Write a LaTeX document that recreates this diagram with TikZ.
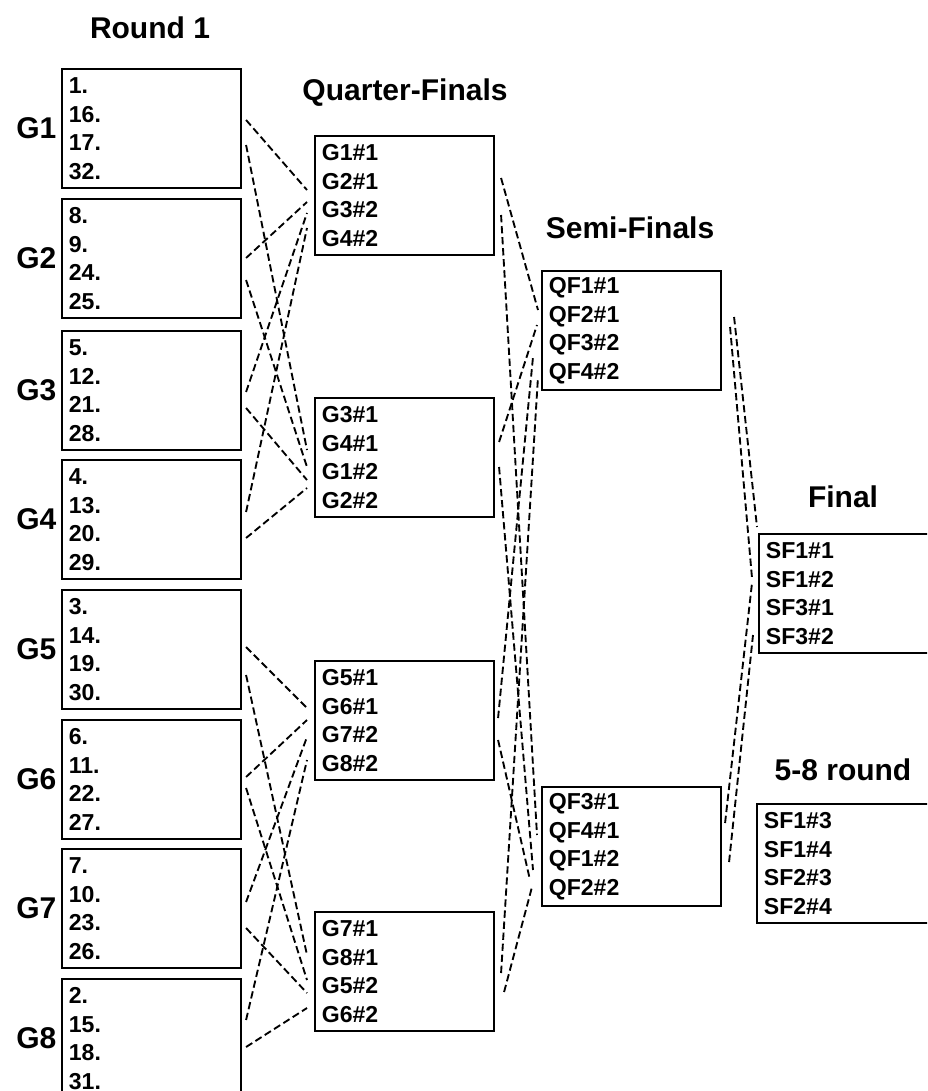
\documentclass[tikz,border=0pt]{standalone}
\usepackage{fontspec}
\setmainfont{Liberation Sans}
\usepackage{tikz}
\usetikzlibrary{calc, positioning}

\begin{document}
\begin{tikzpicture}[x=0.75pt, y=-0.75pt,
    hop/.style={draw, line width=1.8pt, anchor=north west, minimum width=134pt,
        minimum height=89pt, text width=124pt, inner xsep=5pt, align=left,
        font=\bfseries\fontsize{17.3}{21.4}\selectfont},
    tieude/.style={font=\bfseries\fontsize{22.5}{27}\selectfont},
    noi/.style={line width=1.4pt, dash pattern=on 5.5pt off 2.8pt}]
    \useasboundingbox (0,0) rectangle (927,1091);
    \clip (0,0) rectangle (927,1091);

    % 1. Vòng 1: tám bảng G1 -- G8
    \node[tieude] (tdvong1) at (150,28) {Round 1};
    \node[hop] (g1) at (61,68)  {1.\\16.\\17.\\32.};
    \node[hop] (g2) at (61,198) {8.\\9.\\24.\\25.};
    \node[hop] (g3) at (61,330) {5.\\12.\\21.\\28.};
    \node[hop] (g4) at (61,459) {4.\\13.\\20.\\29.};
    \node[hop] (g5) at (61,589) {3.\\14.\\19.\\30.};
    \node[hop] (g6) at (61,719) {6.\\11.\\22.\\27.};
    \node[hop] (g7) at (61,848) {7.\\10.\\23.\\26.};
    \node[hop] (g8) at (61,978) {2.\\15.\\18.\\31.};
    \node[tieude, left=0pt of g1] (ng1) {G1};
    \node[tieude, left=0pt of g2] (ng2) {G2};
    \node[tieude, left=0pt of g3] (ng3) {G3};
    \node[tieude, left=0pt of g4] (ng4) {G4};
    \node[tieude, left=0pt of g5] (ng5) {G5};
    \node[tieude, left=0pt of g6] (ng6) {G6};
    \node[tieude, left=0pt of g7] (ng7) {G7};
    \node[tieude, left=0pt of g8] (ng8) {G8};

    % 2. Tứ kết
    \node[tieude] (tdtk) at (405,93) {Quarter-Finals};
    \node[hop] (qf1) at (314,135) {G1\#1\\G2\#1\\G3\#2\\G4\#2};
    \node[hop] (qf2) at (314,397) {G3\#1\\G4\#1\\G1\#2\\G2\#2};
    \node[hop] (qf3) at (314,660) {G5\#1\\G6\#1\\G7\#2\\G8\#2};
    \node[hop] (qf4) at (314,911) {G7\#1\\G8\#1\\G5\#2\\G6\#2};

    % 3. Bán kết
    \node[tieude] (tdbk) at (630,228) {Semi-Finals};
    \node[hop] (sf1) at (541,270) {QF1\#1\\QF2\#1\\QF3\#2\\QF4\#2};
    \node[hop] (sf2) at (541,786) {QF3\#1\\QF4\#1\\QF1\#2\\QF2\#2};

    % 4. Chung kết và vòng 5-8
    \node[tieude] (tdck) at (843,497) {Final};
    \node[hop] (fin) at (758,533) {SF1\#1\\SF1\#2\\SF3\#1\\SF3\#2};
    \node[tieude] (td58) at (843,770) {5-8 round};
    \node[hop] (v58) at (756,803) {SF1\#3\\SF1\#4\\SF2\#3\\SF2\#4};

    % 5. Đường nối nét đứt: vòng 1 -> tứ kết
    \draw[noi] ($(g1.north east)+(4,52)$) -- ($(qf1.north west)+(-7,55)$);
    \draw[noi] ($(g1.north east)+(4,77)$) -- ($(qf2.north west)+(-7,53)$);
    \draw[noi] ($(g2.north east)+(4,60)$) -- ($(qf1.north west)+(-7,67)$);
    \draw[noi] ($(g2.north east)+(4,82)$) -- ($(qf2.north west)+(-7,70)$);
    \draw[noi] ($(g3.north east)+(4,62)$) -- ($(qf1.north west)+(-7,78)$);
    \draw[noi] ($(g3.north east)+(4,78)$) -- ($(qf2.north west)+(-7,83)$);
    \draw[noi] ($(g4.north east)+(4,53)$) -- ($(qf1.north west)+(-7,93)$);
    \draw[noi] ($(g4.north east)+(4,79)$) -- ($(qf2.north west)+(-7,91)$);
    \draw[noi] ($(g5.north east)+(4,58)$) -- ($(qf3.north west)+(-7,48)$);
    \draw[noi] ($(g5.north east)+(4,86)$) -- ($(qf4.north west)+(-7,44)$);
    \draw[noi] ($(g6.north east)+(4,58)$) -- ($(qf3.north west)+(-7,60)$);
    \draw[noi] ($(g6.north east)+(4,69)$) -- ($(qf4.north west)+(-7,69)$);
    \draw[noi] ($(g7.north east)+(4,54)$) -- ($(qf3.north west)+(-7,77)$);
    \draw[noi] ($(g7.north east)+(4,80)$) -- ($(qf4.north west)+(-7,82)$);
    \draw[noi] ($(g8.north east)+(4,42)$) -- ($(qf3.north west)+(-7,100)$);
    \draw[noi] ($(g8.north east)+(4,69)$) -- ($(qf4.north west)+(-7,97)$);

    % 6. Tứ kết -> bán kết
    \draw[noi] ($(qf1.north east)+(6,43)$) -- ($(sf1.north west)+(-3,40)$);
    \draw[noi] ($(qf1.north east)+(6,80)$) -- ($(sf2.north west)+(-4,49)$);
    \draw[noi] ($(qf2.north east)+(4,45)$) -- ($(sf1.north west)+(-4,55)$);
    \draw[noi] ($(qf2.north east)+(4,70)$) -- ($(sf2.north west)+(-8,84)$);
    \draw[noi] ($(qf3.north east)+(3,58)$) -- ($(sf1.north west)+(-8,87)$);
    \draw[noi] ($(qf3.north east)+(3,80)$) -- ($(sf2.north west)+(-11,94)$);
    \draw[noi] ($(qf4.north east)+(6,62)$) -- ($(sf1.north west)+(-3,107)$);
    \draw[noi] ($(qf4.north east)+(9,81)$) -- ($(sf2.north west)+(-9,101)$);

    % 7. Bán kết -> chung kết
    \draw[noi] ($(sf1.north east)+(12,47)$) -- ($(fin.north west)+(-1,-6)$);
    \draw[noi] ($(sf1.north east)+(8,57)$) -- ($(fin.north west)+(-6,45)$);
    \draw[noi] ($(sf2.north east)+(3,37)$) -- ($(fin.north west)+(-6,50)$);
    \draw[noi] ($(sf2.north east)+(7,76)$) -- ($(fin.north west)+(-5,102)$);

\end{tikzpicture}
\end{document}
